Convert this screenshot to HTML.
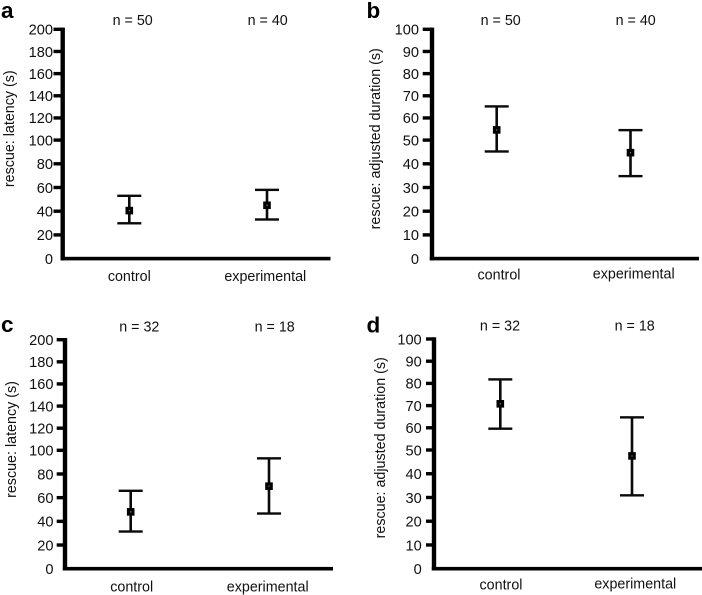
<!DOCTYPE html>
<html lang="en">
<head>
<meta charset="utf-8">
<title>Rescue latency and adjusted duration</title>
<style>
html,body{margin:0;padding:0;background:#fff;}
svg{display:block;font-family:"Liberation Sans",Arial,sans-serif;fill:#111;}
.t{font-size:14.6px;}
.n{font-size:14.3px;text-anchor:middle;}
.p{font-size:22.5px;font-weight:bold;fill:#000;}
</style>
</head>
<body>
<svg id="chart" width="702" height="595" viewBox="0 0 702 595" xmlns="http://www.w3.org/2000/svg">
<rect width="702" height="595" fill="#fff"/>

<text class="p" x="1" y="18">a</text>
<text class="p" x="366.5" y="18">b</text>
<text class="p" x="1" y="332">c</text>
<text class="p" x="366.5" y="332.5">d</text>

<text class="n" x="132.7" y="25">n = 50</text>
<text class="n" x="267.7" y="25">n = 40</text>
<text class="n" x="500.7" y="25">n = 50</text>
<text class="n" x="635.7" y="25">n = 40</text>
<text class="n" x="139.3" y="331.5">n = 32</text>
<text class="n" x="274.7" y="331.5">n = 18</text>
<text class="n" x="500" y="330.5">n = 32</text>
<text class="n" x="634.7" y="330.5">n = 18</text>

<text class="n" x="129.3" y="281">control</text>
<text class="n" x="265.3" y="281">experimental</text>
<text class="n" x="499" y="279.5">control</text>
<text class="n" x="633.7" y="278.5">experimental</text>
<text class="n" x="131.7" y="591.5">control</text>
<text class="n" x="267.7" y="591.5">experimental</text>
<text class="n" x="501" y="589.5">control</text>
<text class="n" x="635.3" y="588.5">experimental</text>

<text class="n" transform="translate(14,128.7) rotate(-90)">rescue: latency (s)</text>
<text class="n" transform="translate(380,138.8) rotate(-90)">rescue: adjusted duration (s)</text>
<text class="n" transform="translate(16,439.5) rotate(-90)">rescue: latency (s)</text>
<text class="n" transform="translate(385,447.8) rotate(-90)">rescue: adjusted duration (s)</text>
</svg>

<script>
// Tick labels
const latencyTicks = [0, 20, 40, 60, 80, 100, 120, 140, 160, 180, 200];
const durationTicks = [0, 10, 20, 30, 40, 50, 60, 70, 80, 90, 100];

// Series values: [control, experimental]
const panelAMeans = [40.5, 45];
const panelAUpper = [53, 58];
const panelALower = [29.8, 33];

const panelBMeans = [54.6, 44.7];
const panelBUpper = [65.2, 54.5];
const panelBLower = [45.2, 34.8];

const panelCMeans = [48, 69.7];
const panelCUpper = [65.8, 93.2];
const panelCLower = [31.4, 46.6];

const panelDMeans = [70.8, 47.5];
const panelDUpper = [81.8, 64.7];
const panelDLower = [59.6, 30.9];

const svg = document.getElementById('chart');
const NS = 'http://www.w3.org/2000/svg';

function rect(x, y, w, h, fill) {
  const r = document.createElementNS(NS, 'rect');
  r.setAttribute('x', x);
  r.setAttribute('y', y);
  r.setAttribute('width', w);
  r.setAttribute('height', h);
  r.setAttribute('fill', fill || '#000');
  svg.appendChild(r);
  return r;
}

function drawPanel(id, ticks, means, upper, lower, frame) {
  const max = ticks[ticks.length - 1];
  // The source figure's axis is slightly compressed above its midpoint.
  const yScale = function (v) {
    const f = v / max;
    const midY = frame.y0 - frame.lowerSpan;
    return f <= 0.5
      ? frame.y0 - (f / 0.5) * frame.lowerSpan
      : midY - ((f - 0.5) / 0.5) * (midY - frame.yTop);
  };
  const xScale = function (i) { return frame.xFirst + i * frame.xStep; };
  const top = yScale(max);

  const yAxis = rect(frame.axisX - 2.2, top - 1.7, 4.4, frame.y0 - top + 3.4);
  
  

  const xAxis = rect(frame.axisX - 2.2, frame.y0 - 1.8, frame.xEnd - frame.axisX + 2.2, 3.6);
  
  

  ticks.forEach(function (t) {
    const y = yScale(t);
    if (t !== 0) {
      const tick = rect(frame.tickX, y - 1.7, frame.axisX - frame.tickX, 3.4);
      
      
    }
    const label = document.createElementNS(NS, 'text');
    label.setAttribute('class', 't');
    label.setAttribute('text-anchor', 'end');
    label.setAttribute('x', frame.labelX);
    label.setAttribute('y', y + 5.3);
    label.textContent = t;
    
    
    svg.appendChild(label);
  });

  means.forEach(function (m, i) {
    const x = xScale(i);
    const yU = yScale(upper[i]);
    const yL = yScale(lower[i]);
    const yM = yScale(m);

    const stem = rect(x - 1.3, yU, 2.6, yL - yU, '#0a0a0a');
    
    

    const capU = rect(x - 12, yU - 1.2, 24, 2.4, '#0a0a0a');
    
    

    const capL = rect(x - 12, yL - 1.2, 24, 2.4, '#0a0a0a');
    
    

    const point = rect(x - 3.8, yM - 3.8, 7.6, 7.6, '#000');
    
    

    const dot = rect(x - 0.6, yM - 0.6, 1.2, 1.2, '#888');
    
    
  });
}

drawPanel('a', latencyTicks, panelAMeans, panelAUpper, panelALower,
  {axisX: 62.7, y0: 258.6, lowerSpan: 118.5, yTop: 29.3, tickX: 53.5, labelX: 53, xFirst: 129.3, xStep: 137.7, xEnd: 330.5});
drawPanel('b', durationTicks, panelBMeans, panelBUpper, panelBLower,
  {axisX: 432, y0: 258.6, lowerSpan: 118.5, yTop: 29.3, tickX: 422.7, labelX: 419, xFirst: 496.7, xStep: 133.8, xEnd: 699});
drawPanel('c', latencyTicks, panelCMeans, panelCUpper, panelCLower,
  {axisX: 65, y0: 568.7, lowerSpan: 118.4, yTop: 339.7, tickX: 56.7, labelX: 53.5, xFirst: 130.7, xStep: 138.3, xEnd: 333});
drawPanel('d', durationTicks, panelDMeans, panelDUpper, panelDLower,
  {axisX: 434, y0: 568.7, lowerSpan: 118.7, yTop: 339, tickX: 426, labelX: 421.7, xFirst: 500.3, xStep: 131.7, xEnd: 702});
</script>
</body>
</html>
